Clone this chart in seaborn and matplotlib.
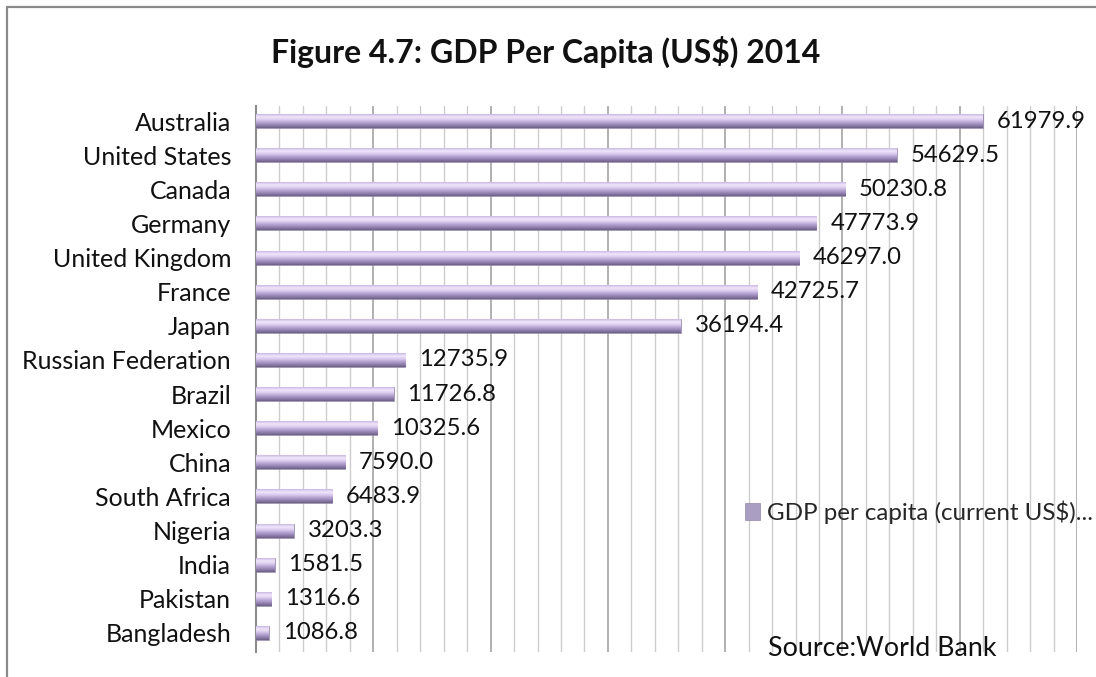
import numpy as np
import pandas as pd
import matplotlib
matplotlib.use("Agg")
import matplotlib.pyplot as plt
from matplotlib.lines import Line2D
from matplotlib.colors import LinearSegmentedColormap
import seaborn as sns

countries = ["Australia", "United States", "Canada", "Germany", "United Kingdom",
             "France", "Japan", "Russian Federation", "Brazil", "Mexico", "China",
             "South Africa", "Nigeria", "India", "Pakistan", "Bangladesh"]
gdp = [61979.9, 54629.5, 50230.8, 47773.9, 46297.0, 42725.7, 36194.4, 12735.9,
       11726.8, 10325.6, 7590.0, 6483.9, 3203.3, 1581.5, 1316.6, 1086.8]
series_label = "GDP per capita (current US$)..."
title = "Figure 4.7: GDP Per Capita (US$) 2014"
source = "Source:World Bank"

df = pd.DataFrame({"country": countries, "gdp": gdp})

sns.set_theme(style="white")
plt.rcParams["font.family"] = ["Lato", "DejaVu Sans"]

fig = plt.figure(figsize=(10.96, 6.77), dpi=100)
ax = fig.add_axes([0.2336, 0.0369, 0.9827 - 0.2336, 0.8434 - 0.0369])

sns.barplot(data=df, x="gdp", y="country", orient="h", color="#a898c8",
            width=0.41, edgecolor="#857799", linewidth=0.4, ax=ax,
            label=series_label, zorder=3)

# gradient shading to mimic the 3D bar look (light top, dark bottom)
cmap = LinearSegmentedColormap.from_list(
    "bar3d", ["#c9b8e2", "#f1e6fc", "#dccdf0", "#b6a5d3", "#9483b2", "#6d6084"])
grad = np.linspace(0, 1, 64).reshape(-1, 1)
for p in ax.patches:
    x0, y0 = p.get_x(), p.get_y()
    w, h = p.get_width(), p.get_height()
    im = ax.imshow(grad, cmap=cmap, aspect="auto",
                   extent=(x0, x0 + w, y0 + h, y0), origin="upper", zorder=4)
    im.set_clip_path(p)

ax.bar_label(ax.containers[0], fmt="%.1f", padding=10, fontsize=17.2,
             color="#111111", zorder=5)

ax.set_xlim(0, 70000)
ax.set_ylim(15.56, -0.44)
ax.set_xticks(np.arange(0, 70001, 10000))
ax.set_xticks(np.arange(0, 70001, 2000), minor=True)
ax.grid(False)
ax.grid(axis="x", which="minor", color="#cdcdcd", linewidth=1.0, zorder=0)
ax.grid(axis="x", which="major", color="#a3a3a3", linewidth=1.2, zorder=1)
ax.tick_params(axis="x", which="both", length=0, labelbottom=False)
ax.tick_params(axis="y", length=0, pad=18, labelsize=18, labelcolor="#111111")
ax.set_xlabel("")
ax.set_ylabel("")
for s in ["top", "right", "bottom"]:
    ax.spines[s].set_visible(False)
ax.spines["left"].set_color("#8c8c8c")
ax.spines["left"].set_linewidth(1.5)
ax.patch.set_alpha(0)

leg = ax.legend(loc="center left", bbox_to_anchor=(745 / 1096, 1 - 512 / 677),
                bbox_transform=fig.transFigure, frameon=False, fontsize=17.4,
                handlelength=0.6, handleheight=0.7, handletextpad=0.3,
                borderpad=0, borderaxespad=0)

fig.text(0.498, 1 - 52 / 677, title, ha="center", va="center",
         fontsize=23, fontweight="bold", color="#111111")
fig.text(768 / 1096, 1 - 648 / 677, source, ha="left", va="center",
         fontsize=19.3, color="#111111")

# chart-area border (top and left visible)
fig.add_artist(Line2D([7 / 1096, 1.0], [1 - 7 / 677, 1 - 7 / 677],
                      transform=fig.transFigure, color="#8a8a8a", linewidth=1.6))
fig.add_artist(Line2D([7 / 1096, 7 / 1096], [0, 1 - 7 / 677],
                      transform=fig.transFigure, color="#8a8a8a", linewidth=1.6))

fig.savefig("out.png", dpi=100)
